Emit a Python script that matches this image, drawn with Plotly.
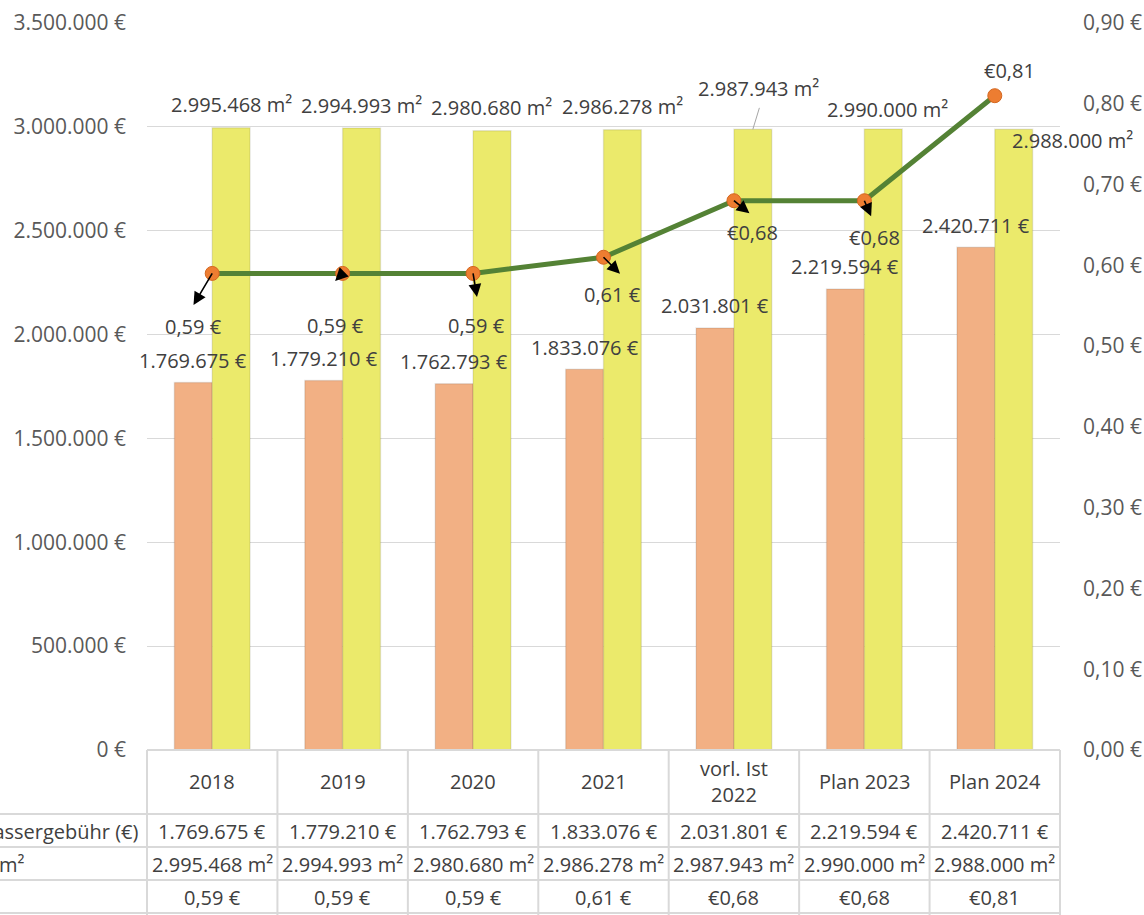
import plotly.graph_objects as go

# ---------------- data ----------------
categories = ["2018", "2019", "2020", "2021", "vorl. Ist<br>2022", "Plan 2023", "Plan 2024"]
fee_eur = [1769675, 1779210, 1762793, 1833076, 2031801, 2219594, 2420711]
area_m2 = [2995468, 2994993, 2980680, 2986278, 2987943, 2990000, 2988000]
price_eur = [0.59, 0.59, 0.59, 0.61, 0.68, 0.68, 0.81]
price_euro_first = [False, False, False, False, True, True, True]
row_labels = ["Niederschlagswassergebühr (€)", "m²", ""]
left_ticks = [0, 500000, 1000000, 1500000, 2000000, 2500000, 3000000, 3500000]
right_ticks = [0.0, 0.1, 0.2, 0.3, 0.4, 0.5, 0.6, 0.7, 0.8, 0.9]


def de_int(v):
    return f"{v:,.0f}".replace(",", ".")


def de_dec(v):
    return f"{v:.2f}".replace(".", ",")


fee_text = [de_int(v) + " €" for v in fee_eur]
area_text = [de_int(v) + " m²" for v in area_m2]
price_text = [("€" + de_dec(v)) if f else (de_dec(v) + " €") for v, f in zip(price_eur, price_euro_first)]
left_ticktext = [de_int(v) + " €" for v in left_ticks]
right_ticktext = [de_dec(v) + " €" for v in right_ticks]

# ---------------- styles ----------------
FONT = "Open Sans"
TXT = "#404040"
AX = "#595959"
GRID = "#D9D9D9"
ORANGE = "#F2B084"
YELLOW = "#EBEA6B"
LINE = "#548235"
MARK = "#ED7D31"
SHADOW = "rgba(0,0,0,0.09)"
BW = 0.29
FS = 20

# label offsets in screen pixels (dx, dy; dy positive = down)
fee_off = [(0, -22)] * 7
area_off = [(0, -23), (0, -22), (0, -23), (0, -23), (6, -41), (4, -19), (59, 11)]
price_off = [(-19, 53), (-7, 52), (3, 52), (9, 37), (19, 32), (10, 37), (15, -25)]
arrow_off = [(-19, 32), (-8, 8), (4, 24), (17, 17), (16, 13), (7, 16), None]

x = list(range(len(categories)))
n = len(categories)

fig = go.Figure()
fig.add_trace(go.Bar(x=x, y=fee_eur, width=BW, offset=-BW,
                     marker=dict(color=ORANGE, line=dict(width=1.5, color=SHADOW)),
                     name="Gebühr", hoverinfo="skip"))
fig.add_trace(go.Bar(x=x, y=area_m2, width=BW, offset=0,
                     marker=dict(color=YELLOW, line=dict(width=1.5, color=SHADOW)),
                     name="m²", hoverinfo="skip"))
fig.add_trace(go.Scatter(x=x, y=price_eur, yaxis="y2", mode="lines+markers",
                         line=dict(color=LINE, width=5),
                         marker=dict(color=MARK, size=14, line=dict(width=1, color="#D4661F")),
                         name="€/m²", hoverinfo="skip"))

ann = []
for i in x:
    dx, dy = fee_off[i]
    ann.append(dict(x=i - BW / 2, y=fee_eur[i], xref="x", yref="y", text=fee_text[i], showarrow=False,
                    xanchor="center", yanchor="middle",
                    xshift=dx, yshift=-dy, font=dict(size=FS, color=TXT)))
    dx, dy = area_off[i]
    ann.append(dict(x=i + BW / 2, y=area_m2[i], xref="x", yref="y", text=area_text[i], showarrow=False,
                    xanchor="center", yanchor="middle",
                    xshift=dx, yshift=-dy, font=dict(size=FS, color=TXT)))
    dx, dy = price_off[i]
    ann.append(dict(x=i, y=price_eur[i], xref="x", yref="y2", text=price_text[i], showarrow=False,
                    xanchor="center", yanchor="middle",
                    xshift=dx, yshift=-dy, font=dict(size=FS, color=TXT)))
    if arrow_off[i] is not None:
        ax, ay = arrow_off[i]
        ann.append(dict(x=i, y=price_eur[i], xref="x", yref="y2", text="", showarrow=True,
                        ax=ax, ay=ay, arrowside="start", startarrowhead=2, startarrowsize=1.6,
                        arrowwidth=1.6, arrowcolor="black", standoff=0, startstandoff=0, borderpad=0))

# leader line for the moved 2022 area label
ann.append(dict(x=4 + BW / 2, y=area_m2[4], xref="x", yref="y", text="", showarrow=True,
                ax=7, ay=-23, arrowhead=0, arrowwidth=1, arrowcolor="#A6A6A6", standoff=0, startstandoff=0))

# data table
row_y = [-81, -114, -147]
for i in x:
    ann.append(dict(x=i, y=0, xref="x", yref="paper", text=categories[i], showarrow=False,
                    xanchor="center", yanchor="middle",
                    yshift=-31, font=dict(size=FS, color=TXT), align="center"))
    for txt, ys in zip([fee_text[i], area_text[i], price_text[i]], row_y):
        ann.append(dict(x=i, y=0, xref="x", yref="paper", text=txt, showarrow=False,
                        xanchor="center", yanchor="middle",
                        yshift=ys, font=dict(size=FS, color=TXT)))
label_shift = [-6, -120, -6]
for lab, xs, ys in zip(row_labels, label_shift, row_y):
    if lab:
        ann.append(dict(x=-0.5, y=0, xref="x", yref="paper", text=lab, showarrow=False, xanchor="right",
                        yanchor="middle", xshift=xs, yshift=ys, font=dict(size=FS, color=TXT)))

shapes = []
# top border of table (axis line)
shapes.append(dict(type="line", xref="paper", yref="paper", x0=0, x1=1, y0=0, y1=0,
                   line=dict(color=GRID, width=2)))
for yy in [-64, -97, -130, -163]:
    shapes.append(dict(type="line", xref="paper", yref="paper", x0=-0.2, x1=1,
                       ysizemode="pixel", yanchor=0, y0=yy, y1=yy, line=dict(color=GRID, width=2)))
for k in range(n + 1):
    shapes.append(dict(type="line", xref="paper", yref="paper", x0=k / n, x1=k / n,
                       ysizemode="pixel", yanchor=0, y0=0, y1=-170, line=dict(color=GRID, width=2)))

fig.update_layout(
    width=1144, height=915,
    margin=dict(l=147, r=84, t=23, b=165, pad=0, autoexpand=False),
    paper_bgcolor="white", plot_bgcolor="white",
    font=dict(family=FONT, size=FS, color=TXT),
    showlegend=False,
    barmode="overlay",
    xaxis=dict(range=[-0.5, 6.5], showticklabels=False, showgrid=False, zeroline=False, showline=False,
               fixedrange=True, automargin=False),
    yaxis=dict(range=[0, 3500000], tickvals=left_ticks, ticktext=left_ticktext, showgrid=True,
               gridcolor=GRID, gridwidth=1, zeroline=False, showline=False, ticks="", automargin=False,
               ticklabelstandoff=20, tickfont=dict(size=21, color=AX, family=FONT)),
    yaxis2=dict(range=[0, 0.9], tickvals=right_ticks, ticktext=right_ticktext, overlaying="y", side="right",
                showgrid=False, zeroline=False, showline=False, ticks="", automargin=False,
                ticklabelstandoff=22, tickfont=dict(size=21, color=AX, family=FONT)),
    annotations=ann,
    shapes=shapes,
)

fig.write_html("out.html", config={"displayModeBar": False},
               post_script="document.body.style.margin='0';document.body.style.overflow='hidden';")
